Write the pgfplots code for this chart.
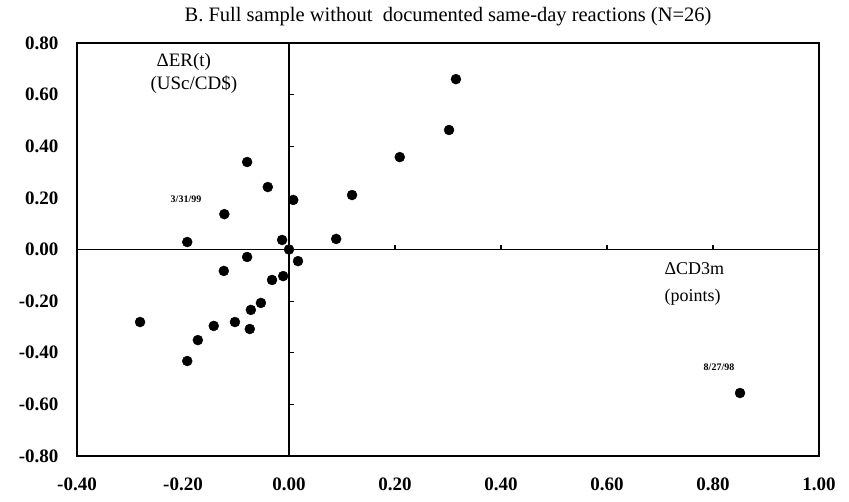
\documentclass[border=0pt]{standalone}
\usepackage{pgfplots}
\pgfplotsset{compat=1.18}
\usepackage{fontspec}
\setmainfont{Liberation Serif}

\begin{document}
\begin{tikzpicture}[x=1pt,y=1pt]
\begin{axis}[
  at={(0,0)}, anchor=south west,
  scale only axis, width=742pt, height=413pt,
  xmin=-0.4, xmax=1.0, ymin=-0.8, ymax=0.8,
  xtick={-0.4,-0.2,0,0.2,0.4,0.6,0.8,1},
  ytick={-0.8,-0.6,-0.4,-0.2,0,0.2,0.4,0.6,0.8},
  major tick length=0pt,
  axis line style={line width=1.6pt},
  clip=false,
  /pgf/number format/.cd, fixed, fixed zerofill, precision=2, assume math mode=true,
  /pgfplots/.cd,
  ticklabel style={font=\fontsize{19}{19}\selectfont\bfseries},
  xticklabel style={yshift=-18pt},
  yticklabel style={xshift=-15pt},
]
% axes crossing at the origin
\draw[line width=1.8pt] (axis cs:0,-0.8) -- (axis cs:0,0.8);
\draw[line width=1.8pt] (axis cs:-0.4,0) -- (axis cs:1,0);
\pgfplotsinvokeforeach{-0.6,-0.4,-0.2,0.2,0.4,0.6}{
  \draw[line width=1.2pt] (axis cs:0,#1) -- ([xshift=5pt]axis cs:0,#1);
}
\pgfplotsinvokeforeach{0.2,0.4,0.6,0.8}{
  \draw[line width=1.2pt] (axis cs:#1,0) -- ([yshift=5pt]axis cs:#1,0);
}
\addplot[only marks, mark=*, mark size=5pt, black] table {
x y
0.315 0.660
0.302 0.463
0.209 0.358
0.119 0.211
0.089 0.041
0.008 0.192
-0.040 0.242
-0.079 0.339
-0.122 0.137
-0.192 0.029
-0.013 0.037
0.000 0.000
0.017 -0.045
-0.079 -0.029
-0.123 -0.083
-0.011 -0.103
-0.032 -0.118
-0.053 -0.207
-0.072 -0.234
-0.074 -0.308
-0.102 -0.281
-0.142 -0.296
-0.172 -0.351
-0.192 -0.432
-0.281 -0.281
0.851 -0.556
};
\end{axis}
% title and annotations
\node[font=\fontsize{20.5}{20.5}\selectfont] at (371,439) {B. Full sample without\ \ documented same-day reactions (N=26)};
\node[font=\fontsize{19}{19}\selectfont, anchor=west] at (76,394) {ΔER(t)};
\node[font=\fontsize{19}{19}\selectfont, anchor=west] at (70,371) {(USc/CD\$)};
\node[font=\fontsize{18}{18}\selectfont, anchor=west] at (584,187) {ΔCD3m};
\node[font=\fontsize{18}{18}\selectfont, anchor=west] at (584,159) {(points)};
\node[font=\fontsize{10}{10}\selectfont\bfseries] at (109,257) {3/31/99};
\node[font=\fontsize{10}{10}\selectfont\bfseries] at (642,89) {8/27/98};
\pgfresetboundingbox
\path (-77,-45) rectangle (772,456);
\end{tikzpicture}
\end{document}
